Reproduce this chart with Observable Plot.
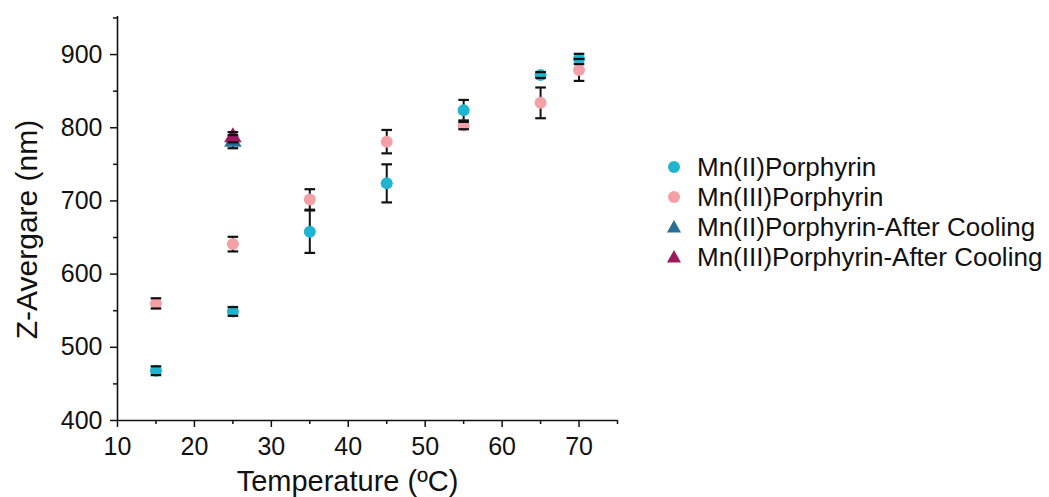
<!DOCTYPE html>
<html>
<head>
<meta charset="utf-8">
<script src="https://cdn.jsdelivr.net/npm/d3@7"></script>
<script src="https://cdn.jsdelivr.net/npm/@observablehq/plot@0.6"></script>
<style>
  html, body { margin: 0; padding: 0; background: #fff; }
  #wrap { position: relative; width: 1049px; height: 497px; font-family: "Liberation Sans", Arial, sans-serif; overflow: hidden; }
  #chart { position: absolute; left: 0; top: 0; }
  #chart svg g[aria-label="x-axis tick label"] text,
  #chart svg g[aria-label="y-axis tick label"] text { font-size: 25px; fill: #111; }
  #legend { position: absolute; left: 662px; top: 152px; font-size: 26px; color: #111; }
  .row { display: flex; align-items: center; height: 30px; white-space: nowrap; }
  .row svg { width: 24px; height: 24px; margin-right: 11px; flex: none; }
</style>
</head>
<body>
<div id="wrap"><div id="chart"></div><div id="legend"></div></div>
<script>
// ---- data ----
const temps = [15, 25, 35, 45, 55, 65, 70];
const mn2 = [468, 549, 658, 724, 824, 872, 894];
const mn2Err = [6, 6, 29, 26, 14, 4, 7];
const mn3 = [560, 641, 702, 781, 803, 834, 879];
const mn3Err = [7, 10, 14, 16, 5, 21, 15];
const coolTemps = [25];
const mn2Cool = [781];
const mn2CoolErr = [9];
const mn3Cool = [787];
const mn3CoolErr = [7];

const seriesNames = ["Mn(II)Porphyrin", "Mn(III)Porphyrin", "Mn(II)Porphyrin-After Cooling", "Mn(III)Porphyrin-After Cooling"];
const seriesColors = ["#1fb4cf", "#f4a0a7", "#2a6f96", "#9e1a5e"];
const seriesSymbols = ["circle", "circle", "triangle", "triangle"];

const xTicks = [10, 20, 30, 40, 50, 60, 70];
const xMinor = [15, 25, 35, 45, 55, 65, 75];
const yTicks = [400, 500, 600, 700, 800, 900];
const yMinor = [450, 550, 650, 750, 850, 950];

// ---- build rows ----
const rows = [];
temps.forEach((t, i) => rows.push({s: 0, x: t, y: mn2[i], e: mn2Err[i]}));
temps.forEach((t, i) => rows.push({s: 1, x: t, y: mn3[i], e: mn3Err[i]}));
coolTemps.forEach((t, i) => rows.push({s: 2, x: t, y: mn2Cool[i], e: mn2CoolErr[i]}));
coolTemps.forEach((t, i) => rows.push({s: 3, x: t, y: mn3Cool[i], e: mn3CoolErr[i]}));

const capSymbol = {
  draw(ctx, size) {
    const w = Math.sqrt(size) / 2;
    ctx.moveTo(-w, 0); ctx.lineTo(w, 0);
  }
};

const font = "Liberation Sans, Arial, sans-serif";

const plot = Plot.plot({
  width: 640,
  height: 497,
  marginLeft: 117,
  marginRight: 23,
  marginTop: 16,
  marginBottom: 77,
  style: {fontFamily: font, color: "#111", background: "#fff"},
  x: {domain: [10, 75]},
  y: {domain: [400, 952]},
  marks: [
    Plot.axisX({ticks: xMinor, tickSize: 4, tickFormat: () => "", strokeWidth: 1.5, label: null}),
    Plot.axisX({ticks: xTicks, tickSize: 7, tickPadding: 10, strokeWidth: 1.5, label: null}),
    Plot.axisY({ticks: yMinor, tickSize: 4, tickFormat: () => "", strokeWidth: 1.5, label: null}),
    Plot.axisY({ticks: yTicks, tickSize: 7, tickPadding: 8, strokeWidth: 1.5, label: null}),
    Plot.ruleX([10], {y1: 400, y2: 952, stroke: "#111", strokeWidth: 1.6}),
    Plot.ruleY([400], {x1: 10, x2: 75, stroke: "#111", strokeWidth: 1.6}),
    // error bar stems
    Plot.ruleX(rows, {x: "x", y1: d => d.y - d.e, y2: d => d.y + d.e, stroke: "#111", strokeWidth: 2}),
    // markers
    Plot.dot(rows.filter(d => d.s < 2), {x: "x", y: "y", r: 6, fill: d => seriesColors[d.s], stroke: "none"}),
    Plot.dot(rows.filter(d => d.s >= 2), {x: "x", y: "y", r: 6.5, symbol: "triangle", fill: d => seriesColors[d.s], stroke: "none"}),
    // caps
    Plot.dot(rows, {x: "x", y: d => d.y + d.e, symbol: capSymbol, r: 6, stroke: "#111", strokeWidth: 2.2, fill: "none"}),
    Plot.dot(rows, {x: "x", y: d => d.y - d.e, symbol: capSymbol, r: 6, stroke: "#111", strokeWidth: 2.2, fill: "none"}),
    // axis titles
    Plot.text(["Temperature (ºC)"], {frameAnchor: "bottom", lineAnchor: "bottom", dx: -20, dy: 70, fontSize: 29, fill: "#111"}),
    Plot.text(["Z-Avergare (nm)"], {frameAnchor: "left", textAnchor: "middle", lineAnchor: "middle", dx: -90, dy: 11, rotate: -90, fontSize: 30, fill: "#111"})
  ]
});
document.getElementById("chart").appendChild(plot);

// ---- legend ----
const legend = document.getElementById("legend");
seriesNames.forEach((name, i) => {
  const row = document.createElement("div");
  row.className = "row";
  const shape = seriesSymbols[i] === "circle"
    ? `<circle cx="12" cy="12" r="6" fill="${seriesColors[i]}"/>`
    : `<path d="M12,5 L19,17.5 L5,17.5 Z" fill="${seriesColors[i]}"/>`;
  row.innerHTML = `<svg viewBox="0 0 24 24">${shape}</svg><span>${name}</span>`;
  legend.appendChild(row);
});
</script>
</body>
</html>
